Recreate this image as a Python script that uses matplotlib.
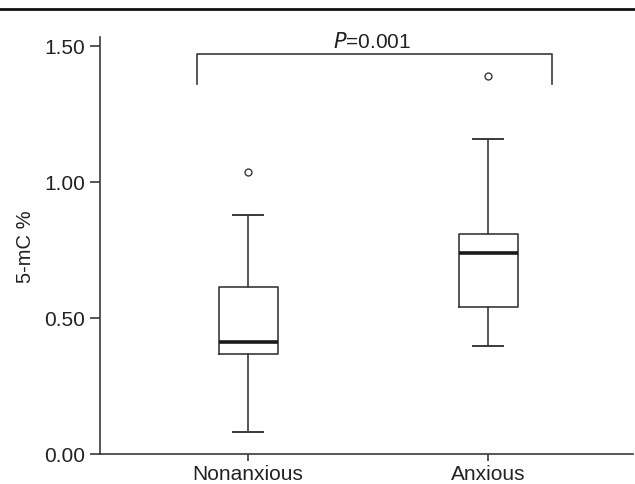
import matplotlib
matplotlib.use("Agg")
import matplotlib.pyplot as plt
from matplotlib.lines import Line2D

# Box plot statistics (5-mC %)
groups = ["Nonanxious", "Anxious"]
q1 = [0.368, 0.540]
medians = [0.412, 0.739]
q3 = [0.614, 0.809]
whisker_low = [0.080, 0.397]
whisker_high = [0.879, 1.158]
outliers = [[1.037], [1.390]]
p_label = "0.001"
yticks = [0.0, 0.5, 1.0, 1.5]

plt.rcParams["font.family"] = ["Liberation Sans", "DejaVu Sans"]
line_col = "#3a3a3a"
text_col = "#222222"

fig = plt.figure(figsize=(6.35, 4.85), dpi=100)
ax = fig.add_axes([100 / 635, 30 / 485, 533 / 635, 417 / 485])

stats = []
for i, name in enumerate(groups):
    stats.append({
        "label": name, "med": medians[i], "q1": q1[i], "q3": q3[i],
        "whislo": whisker_low[i], "whishi": whisker_high[i], "fliers": outliers[i],
    })

ax.bxp(stats, positions=[1, 2], widths=0.246,
       boxprops=dict(color=line_col, linewidth=1.2),
       whiskerprops=dict(color=line_col, linewidth=1.2),
       capprops=dict(color=line_col, linewidth=1.4),
       medianprops=dict(color="#1a1a1a", linewidth=2.6),
       flierprops=dict(marker="o", markersize=5, markerfacecolor="none",
                       markeredgecolor=line_col, markeredgewidth=1.0))

# significance bracket between the two groups
ax.plot([0.7875, 0.7875, 2.267, 2.267], [1.36, 1.471, 1.471, 1.36],
        color=line_col, linewidth=1.2, clip_on=False)
ax.text(1.517, 1.482, "$\\mathit{P}$=" + p_label, ha="center", va="bottom",
        fontsize=15, color=text_col)

ax.set_xlim(0.383, 2.604)
ax.set_ylim(0, 1.533)
ax.set_yticks(yticks)
ax.set_yticklabels([f"{t:.2f}" for t in yticks])
ax.set_ylabel("5-mC %", fontsize=14.5, color=text_col, labelpad=7)

for s in ["top", "right"]:
    ax.spines[s].set_visible(False)
for s in ["left", "bottom"]:
    ax.spines[s].set_color(line_col)
    ax.spines[s].set_linewidth(1.2)
ax.tick_params(axis="both", direction="out", length=7, width=1.2, color=line_col,
               labelsize=15, labelcolor=text_col)
ax.tick_params(axis="x", length=5, pad=2)

# rule across the top of the figure
fig.add_artist(Line2D([0, 1], [1 - 9.5 / 485, 1 - 9.5 / 485], color="#111111", linewidth=2))

fig.savefig("out.png", dpi=100)
